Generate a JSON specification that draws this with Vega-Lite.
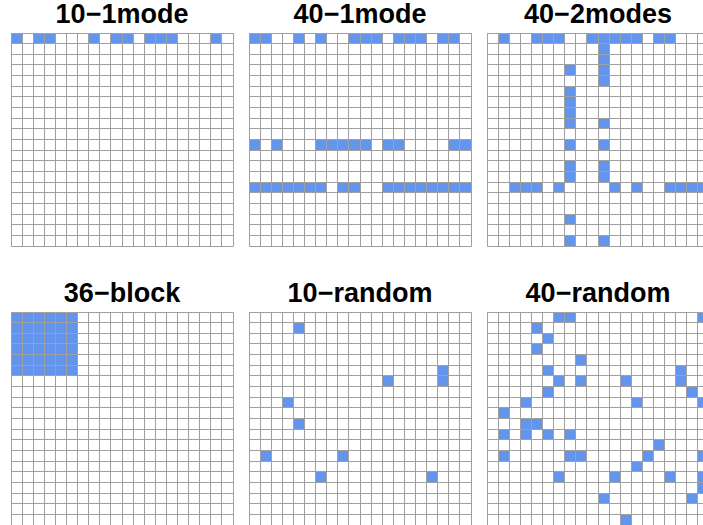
{
  "$schema": "https://vega.github.io/schema/vega-lite/v6.json",
  "padding": {"left": 10, "top": 0, "right": 0, "bottom": 0},
  "background": "white",
  "data": {"values": [
    {"panel": "10−1mode", "col": 1, "row": 1},
    {"panel": "10−1mode", "col": 3, "row": 1},
    {"panel": "10−1mode", "col": 4, "row": 1},
    {"panel": "10−1mode", "col": 8, "row": 1},
    {"panel": "10−1mode", "col": 10, "row": 1},
    {"panel": "10−1mode", "col": 11, "row": 1},
    {"panel": "10−1mode", "col": 13, "row": 1},
    {"panel": "10−1mode", "col": 14, "row": 1},
    {"panel": "10−1mode", "col": 15, "row": 1},
    {"panel": "10−1mode", "col": 19, "row": 1},

    {"panel": "40−1mode", "col": 1, "row": 1},
    {"panel": "40−1mode", "col": 2, "row": 1},
    {"panel": "40−1mode", "col": 5, "row": 1},
    {"panel": "40−1mode", "col": 7, "row": 1},
    {"panel": "40−1mode", "col": 10, "row": 1},
    {"panel": "40−1mode", "col": 11, "row": 1},
    {"panel": "40−1mode", "col": 12, "row": 1},
    {"panel": "40−1mode", "col": 14, "row": 1},
    {"panel": "40−1mode", "col": 15, "row": 1},
    {"panel": "40−1mode", "col": 16, "row": 1},
    {"panel": "40−1mode", "col": 18, "row": 1},
    {"panel": "40−1mode", "col": 19, "row": 1},
    {"panel": "40−1mode", "col": 1, "row": 11},
    {"panel": "40−1mode", "col": 3, "row": 11},
    {"panel": "40−1mode", "col": 7, "row": 11},
    {"panel": "40−1mode", "col": 8, "row": 11},
    {"panel": "40−1mode", "col": 9, "row": 11},
    {"panel": "40−1mode", "col": 10, "row": 11},
    {"panel": "40−1mode", "col": 11, "row": 11},
    {"panel": "40−1mode", "col": 13, "row": 11},
    {"panel": "40−1mode", "col": 14, "row": 11},
    {"panel": "40−1mode", "col": 19, "row": 11},
    {"panel": "40−1mode", "col": 20, "row": 11},
    {"panel": "40−1mode", "col": 1, "row": 15},
    {"panel": "40−1mode", "col": 2, "row": 15},
    {"panel": "40−1mode", "col": 3, "row": 15},
    {"panel": "40−1mode", "col": 4, "row": 15},
    {"panel": "40−1mode", "col": 5, "row": 15},
    {"panel": "40−1mode", "col": 6, "row": 15},
    {"panel": "40−1mode", "col": 7, "row": 15},
    {"panel": "40−1mode", "col": 9, "row": 15},
    {"panel": "40−1mode", "col": 10, "row": 15},
    {"panel": "40−1mode", "col": 13, "row": 15},
    {"panel": "40−1mode", "col": 14, "row": 15},
    {"panel": "40−1mode", "col": 15, "row": 15},
    {"panel": "40−1mode", "col": 16, "row": 15},
    {"panel": "40−1mode", "col": 17, "row": 15},
    {"panel": "40−1mode", "col": 18, "row": 15},
    {"panel": "40−1mode", "col": 19, "row": 15},
    {"panel": "40−1mode", "col": 20, "row": 15},

    {"panel": "40−2modes", "col": 2, "row": 1},
    {"panel": "40−2modes", "col": 5, "row": 1},
    {"panel": "40−2modes", "col": 6, "row": 1},
    {"panel": "40−2modes", "col": 7, "row": 1},
    {"panel": "40−2modes", "col": 10, "row": 1},
    {"panel": "40−2modes", "col": 11, "row": 1},
    {"panel": "40−2modes", "col": 12, "row": 1},
    {"panel": "40−2modes", "col": 13, "row": 1},
    {"panel": "40−2modes", "col": 14, "row": 1},
    {"panel": "40−2modes", "col": 16, "row": 1},
    {"panel": "40−2modes", "col": 17, "row": 1},
    {"panel": "40−2modes", "col": 11, "row": 2},
    {"panel": "40−2modes", "col": 11, "row": 3},
    {"panel": "40−2modes", "col": 11, "row": 4},
    {"panel": "40−2modes", "col": 11, "row": 5},
    {"panel": "40−2modes", "col": 11, "row": 9},
    {"panel": "40−2modes", "col": 11, "row": 11},
    {"panel": "40−2modes", "col": 11, "row": 13},
    {"panel": "40−2modes", "col": 11, "row": 14},
    {"panel": "40−2modes", "col": 11, "row": 20},
    {"panel": "40−2modes", "col": 8, "row": 4},
    {"panel": "40−2modes", "col": 8, "row": 6},
    {"panel": "40−2modes", "col": 8, "row": 7},
    {"panel": "40−2modes", "col": 8, "row": 8},
    {"panel": "40−2modes", "col": 8, "row": 9},
    {"panel": "40−2modes", "col": 8, "row": 11},
    {"panel": "40−2modes", "col": 8, "row": 13},
    {"panel": "40−2modes", "col": 8, "row": 14},
    {"panel": "40−2modes", "col": 8, "row": 18},
    {"panel": "40−2modes", "col": 8, "row": 20},
    {"panel": "40−2modes", "col": 3, "row": 15},
    {"panel": "40−2modes", "col": 4, "row": 15},
    {"panel": "40−2modes", "col": 5, "row": 15},
    {"panel": "40−2modes", "col": 7, "row": 15},
    {"panel": "40−2modes", "col": 12, "row": 15},
    {"panel": "40−2modes", "col": 14, "row": 15},
    {"panel": "40−2modes", "col": 17, "row": 15},
    {"panel": "40−2modes", "col": 18, "row": 15},
    {"panel": "40−2modes", "col": 19, "row": 15},
    {"panel": "40−2modes", "col": 20, "row": 15},

    {"panel": "36−block", "col": 1, "row": 1},
    {"panel": "36−block", "col": 2, "row": 1},
    {"panel": "36−block", "col": 3, "row": 1},
    {"panel": "36−block", "col": 4, "row": 1},
    {"panel": "36−block", "col": 5, "row": 1},
    {"panel": "36−block", "col": 6, "row": 1},
    {"panel": "36−block", "col": 1, "row": 2},
    {"panel": "36−block", "col": 2, "row": 2},
    {"panel": "36−block", "col": 3, "row": 2},
    {"panel": "36−block", "col": 4, "row": 2},
    {"panel": "36−block", "col": 5, "row": 2},
    {"panel": "36−block", "col": 6, "row": 2},
    {"panel": "36−block", "col": 1, "row": 3},
    {"panel": "36−block", "col": 2, "row": 3},
    {"panel": "36−block", "col": 3, "row": 3},
    {"panel": "36−block", "col": 4, "row": 3},
    {"panel": "36−block", "col": 5, "row": 3},
    {"panel": "36−block", "col": 6, "row": 3},
    {"panel": "36−block", "col": 1, "row": 4},
    {"panel": "36−block", "col": 2, "row": 4},
    {"panel": "36−block", "col": 3, "row": 4},
    {"panel": "36−block", "col": 4, "row": 4},
    {"panel": "36−block", "col": 5, "row": 4},
    {"panel": "36−block", "col": 6, "row": 4},
    {"panel": "36−block", "col": 1, "row": 5},
    {"panel": "36−block", "col": 2, "row": 5},
    {"panel": "36−block", "col": 3, "row": 5},
    {"panel": "36−block", "col": 4, "row": 5},
    {"panel": "36−block", "col": 5, "row": 5},
    {"panel": "36−block", "col": 6, "row": 5},
    {"panel": "36−block", "col": 1, "row": 6},
    {"panel": "36−block", "col": 2, "row": 6},
    {"panel": "36−block", "col": 3, "row": 6},
    {"panel": "36−block", "col": 4, "row": 6},
    {"panel": "36−block", "col": 5, "row": 6},
    {"panel": "36−block", "col": 6, "row": 6},

    {"panel": "10−random", "col": 5, "row": 2},
    {"panel": "10−random", "col": 18, "row": 6},
    {"panel": "10−random", "col": 18, "row": 7},
    {"panel": "10−random", "col": 13, "row": 7},
    {"panel": "10−random", "col": 4, "row": 9},
    {"panel": "10−random", "col": 5, "row": 11},
    {"panel": "10−random", "col": 2, "row": 14},
    {"panel": "10−random", "col": 9, "row": 14},
    {"panel": "10−random", "col": 7, "row": 16},
    {"panel": "10−random", "col": 17, "row": 16},

    {"panel": "40−random", "col": 7, "row": 1},
    {"panel": "40−random", "col": 8, "row": 1},
    {"panel": "40−random", "col": 20, "row": 1},
    {"panel": "40−random", "col": 5, "row": 2},
    {"panel": "40−random", "col": 6, "row": 3},
    {"panel": "40−random", "col": 5, "row": 4},
    {"panel": "40−random", "col": 9, "row": 5},
    {"panel": "40−random", "col": 6, "row": 6},
    {"panel": "40−random", "col": 18, "row": 6},
    {"panel": "40−random", "col": 7, "row": 7},
    {"panel": "40−random", "col": 9, "row": 7},
    {"panel": "40−random", "col": 13, "row": 7},
    {"panel": "40−random", "col": 18, "row": 7},
    {"panel": "40−random", "col": 6, "row": 8},
    {"panel": "40−random", "col": 19, "row": 8},
    {"panel": "40−random", "col": 4, "row": 9},
    {"panel": "40−random", "col": 14, "row": 9},
    {"panel": "40−random", "col": 20, "row": 9},
    {"panel": "40−random", "col": 2, "row": 10},
    {"panel": "40−random", "col": 4, "row": 11},
    {"panel": "40−random", "col": 5, "row": 11},
    {"panel": "40−random", "col": 2, "row": 12},
    {"panel": "40−random", "col": 4, "row": 12},
    {"panel": "40−random", "col": 6, "row": 12},
    {"panel": "40−random", "col": 8, "row": 12},
    {"panel": "40−random", "col": 16, "row": 13},
    {"panel": "40−random", "col": 2, "row": 14},
    {"panel": "40−random", "col": 8, "row": 14},
    {"panel": "40−random", "col": 9, "row": 14},
    {"panel": "40−random", "col": 15, "row": 14},
    {"panel": "40−random", "col": 20, "row": 14},
    {"panel": "40−random", "col": 14, "row": 15},
    {"panel": "40−random", "col": 7, "row": 16},
    {"panel": "40−random", "col": 12, "row": 16},
    {"panel": "40−random", "col": 17, "row": 16},
    {"panel": "40−random", "col": 20, "row": 16},
    {"panel": "40−random", "col": 20, "row": 17},
    {"panel": "40−random", "col": 11, "row": 18},
    {"panel": "40−random", "col": 19, "row": 18},
    {"panel": "40−random", "col": 13, "row": 20}
  ]},
  "facet": {
    "field": "panel",
    "type": "nominal",
    "sort": ["10−1mode", "40−1mode", "40−2modes", "36−block", "10−random", "40−random"],
    "header": {
      "title": null,
      "labelFont": "Liberation Sans",
      "labelFontSize": 27,
      "labelFontWeight": "bold",
      "labelColor": "black",
      "labelPadding": 4
    }
  },
  "columns": 3,
  "spacing": {"row": 32, "column": 14},
  "spec": {
    "width": 222,
    "height": 213,
    "mark": {"type": "rect", "color": "#6495ED"},
    "encoding": {
      "x": {
        "field": "col", "type": "ordinal",
        "scale": {"domain": [1,2,3,4,5,6,7,8,9,10,11,12,13,14,15,16,17,18,19,20], "paddingInner": 0, "paddingOuter": 0},
        "axis": {"labels": false, "ticks": false, "domain": false, "title": null, "grid": true, "gridColor": "#a0a0a0", "gridOpacity": 1, "gridWidth": 1, "bandPosition": 0, "zindex": 1}
      },
      "y": {
        "field": "row", "type": "ordinal",
        "scale": {"domain": [1,2,3,4,5,6,7,8,9,10,11,12,13,14,15,16,17,18,19,20], "paddingInner": 0, "paddingOuter": 0},
        "axis": {"labels": false, "ticks": false, "domain": false, "title": null, "grid": true, "gridColor": "#a0a0a0", "gridOpacity": 1, "gridWidth": 1, "bandPosition": 0, "zindex": 1}
      }
    }
  },
  "config": {
    "view": {"stroke": "#a0a0a0", "strokeWidth": 1}
  }
}
